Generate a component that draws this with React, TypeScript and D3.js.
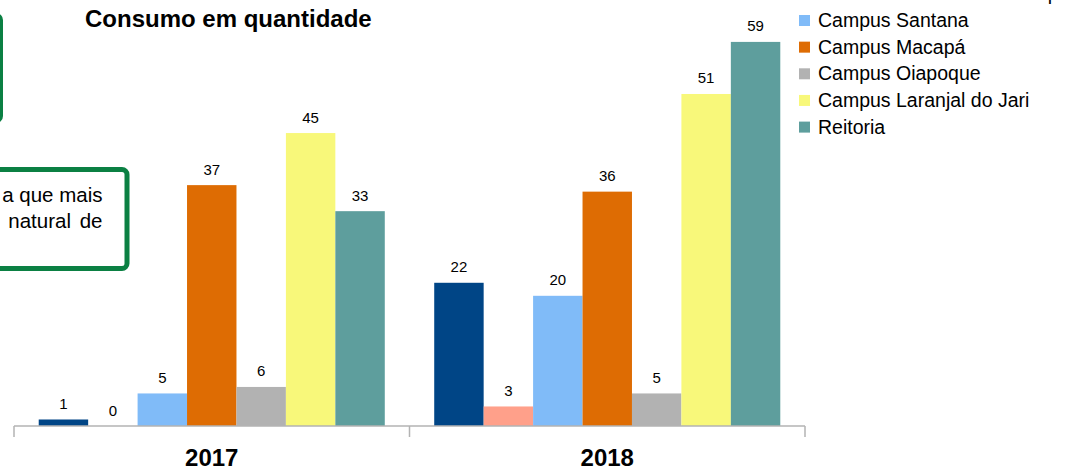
import React from "react";
import * as d3 from "d3";

const categories = ["2017", "2018"];
const seriesNames = [
  "Campus Porto Grande",
  "Centro de Referência Amapá",
  "Campus Santana",
  "Campus Macapá",
  "Campus Oiapoque",
  "Campus Laranjal do Jari",
  "Reitoria",
];
const values2017 = [1, 0, 5, 37, 6, 45, 33];
const values2018 = [22, 3, 20, 36, 5, 51, 59];
const seriesColors = ["#004586", "#ffa08a", "#80bbf8", "#de6c03", "#b2b2b2", "#f8f87a", "#5e9e9d"];
const title = "Consumo em quantidade";
const boxLines = ["a que mais", "natural de"];

const W = 1091;
const H = 467;
const FONT = "'Liberation Sans', Arial, sans-serif";

export default function App() {
  const valuesByCat = [values2017, values2018];
  const x0 = d3.scaleBand<string>().domain(categories).range([14, 805]).padding(0);
  const x1 = d3
    .scaleBand<string>()
    .domain(seriesNames)
    .range([0, x0.bandwidth()])
    .paddingInner(0)
    .paddingOuter(0.5);
  const y = d3.scaleLinear().domain([0, 60]).range([426, 35.4]);
  const baseY = y(0);
  const tickXs = [...categories.map((c) => x0(c) as number), 805];

  return (
    <svg
      width={W}
      height={H}
      style={{ position: "absolute", left: 0, top: 0, background: "#fff", overflow: "hidden" }}
      fontFamily={FONT}
    >
      <rect x={0} y={0} width={W} height={H} fill="#fff" />
      {/* green callout boxes (partially visible) */}
      <rect x={-300} y={15} width={301} height={106} rx={5} fill="none" stroke="#0b8043" strokeWidth={4} />
      <rect x={-300} y={169.5} width={427} height={99} rx={5} fill="#fff" stroke="#0b8043" strokeWidth={5} />
      <text x={102.5} y={202} fontSize={20.5} textAnchor="end" fill="#000">
        {boxLines[0]}
      </text>
      <text x={102.5} y={228} fontSize={20.5} textAnchor="end" fill="#000" wordSpacing={3}>
        {boxLines[1]}
      </text>

      {/* title */}
      <text x={85} y={27} fontSize={24} fontWeight="bold" fill="#000">
        {title}
      </text>

      {/* bars */}
      {categories.map((c, ci) => (
        <g key={c} transform={`translate(${x0(c)},0)`}>
          {seriesNames.map((s, si) => {
            const v = valuesByCat[ci][si];
            const bx = x1(s) as number;
            const top = y(v);
            return (
              <g key={s}>
                <rect x={bx} y={top} width={x1.bandwidth()} height={baseY - top} fill={seriesColors[si]} />
                <text
                  x={bx + x1.bandwidth() / 2}
                  y={top - 10.5}
                  fontSize={15}
                  textAnchor="middle"
                  fill="#000"
                >
                  {v}
                </text>
              </g>
            );
          })}
        </g>
      ))}

      {/* axis */}
      <line x1={14} x2={805} y1={426} y2={426} stroke="#b3b3b3" strokeWidth={1.5} />
      {tickXs.map((tx, i) => (
        <line key={i} x1={tx} x2={tx} y1={426} y2={437} stroke="#b3b3b3" strokeWidth={1.5} />
      ))}
      {categories.map((c) => (
        <text
          key={c}
          x={(x0(c) as number) + x0.bandwidth() / 2}
          y={465.5}
          fontSize={24}
          fontWeight="bold"
          textAnchor="middle"
          fill="#000"
        >
          {c}
        </text>
      ))}

      {/* legend */}
      {seriesNames.map((s, i) => {
        const cy = 20.5 + (i - 2) * 26.65;
        return (
          <g key={s}>
            <rect x={799} y={cy - 5.5} width={11} height={11} fill={seriesColors[i]} />
            <text x={818} y={cy + 6.5} fontSize={19.5} fill="#000">
              {s}
            </text>
          </g>
        );
      })}
    </svg>
  );
}
